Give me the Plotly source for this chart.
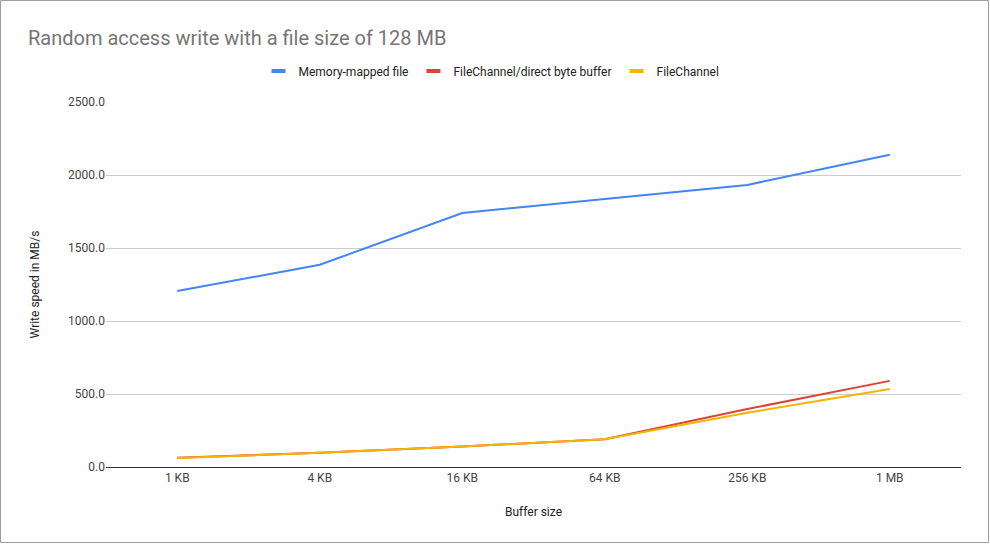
import plotly.graph_objs as go

buffer_sizes = ["1 KB", "4 KB", "16 KB", "64 KB", "256 KB", "1 MB"]
mmap_speed = [1205, 1385, 1740, 1836, 1932, 2138]
direct_speed = [64, 97, 140, 190, 397, 590]
channel_speed = [62, 97, 140, 190, 372, 535]

series = [
    ("Memory-mapped file", mmap_speed, "#4285f4"),
    ("FileChannel/direct byte buffer", direct_speed, "#db4437"),
    ("FileChannel", channel_speed, "#f4b400"),
]

W, H = 990, 545
L, R, T, B = 106, 29, 102, 78
pw, ph = W - L - R, H - T - B

fig = go.Figure()
for name, vals, color in series:
    fig.add_trace(go.Scatter(x=buffer_sizes, y=vals, name=name, mode="lines",
                             line=dict(color=color, width=2), showlegend=False))
# short bar-like legend keys like the sheets chart
for name, vals, color in series:
    fig.add_trace(go.Scatter(x=[None], y=[None], name=name, mode="markers",
                             marker=dict(symbol="line-ew", size=10,
                                         line=dict(color=color, width=4))))

fig.update_layout(
    width=W, height=H,
    margin=dict(l=L, r=R, t=T, b=B, autoexpand=False),
    paper_bgcolor="white", plot_bgcolor="white",
    font=dict(family="Roboto, Arial, sans-serif", size=12, color="#222222"),
    title=dict(text="Random access write with a file size of 128 MB",
               x=28 / W, xanchor="left", y=1 - 38 / H, yanchor="middle",
               font=dict(size=20, color="#757575")),
    legend=dict(orientation="h", x=0.5 - 42 / pw, xanchor="center", y=1 + 31 / ph, yanchor="middle",
                font=dict(size=12, color="#222222")),
    xaxis=dict(title=dict(text="Buffer size", font=dict(size=12, color="#222222"), standoff=23),
               range=[-0.5, 5.5],
               showgrid=False, showline=True, linecolor="#333333", linewidth=1,
               tickfont=dict(size=12, color="#444444"), ticks=""),
    yaxis=dict(title=dict(text="Write speed in MB/s", font=dict(size=12, color="#222222"), standoff=25),
               range=[0, 2500], tickvals=[0, 500, 1000, 1500, 2000, 2500],
               ticktext=["0.0", "500.0", "1000.0", "1500.0", "2000.0", "2500.0"],
               showgrid=True, gridcolor="#cccccc", zeroline=False,
               tickfont=dict(size=12, color="#444444"), ticks=""),
    shapes=[dict(type="rect", xref="paper", yref="paper",
                 x0=-(L - 0.5) / pw, x1=1 + (R - 1.5) / pw,
                 y0=-(B - 2.5) / ph, y1=1 + (T - 0.5) / ph,
                 line=dict(color="#9e9e9e", width=1))],
)

fig.write_html("out.html", config={"displayModeBar": False},
               post_script="document.body.style.margin='0px';")
